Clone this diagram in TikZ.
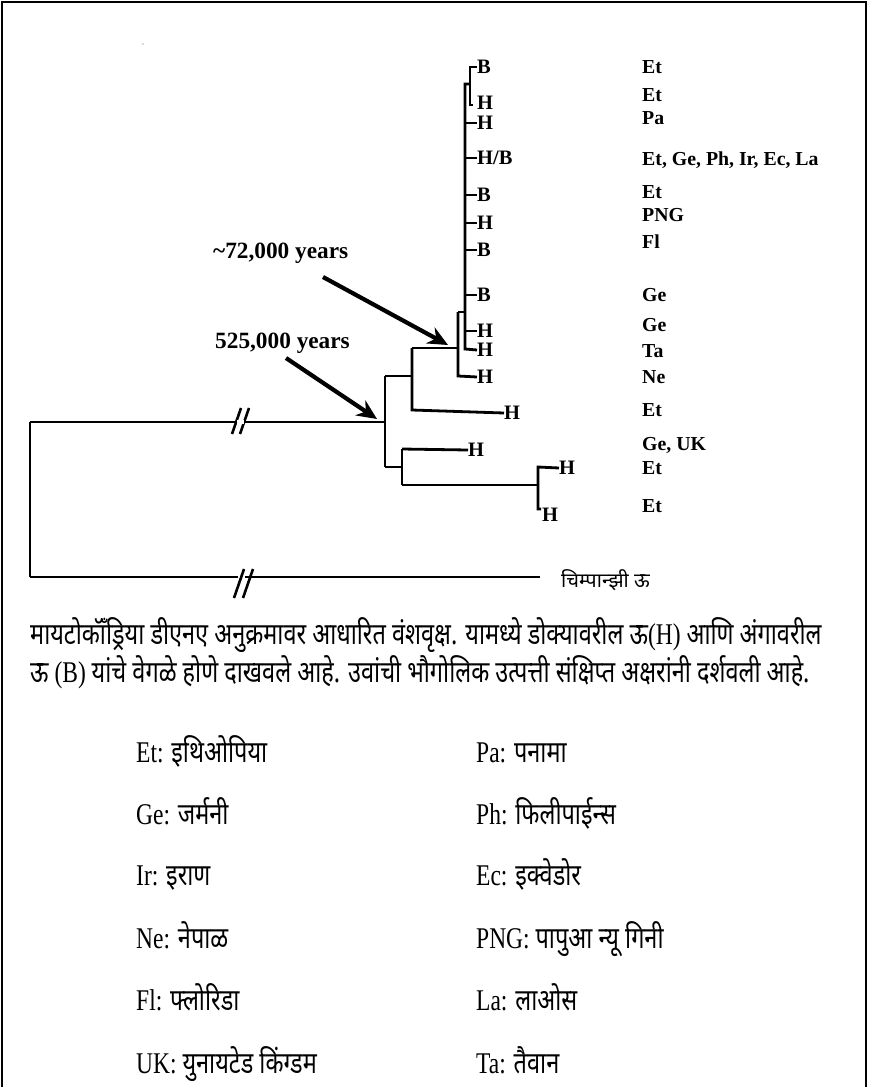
\documentclass[tikz,border=0pt]{standalone}
\usepackage{fontspec}
\setmainfont{Liberation Serif}
\newfontfamily\deva[Script=Devanagari]{Noto Sans}
\usetikzlibrary{arrows.meta}
\newcommand{\dv}[1]{{\deva #1}}
\begin{document}
\begin{tikzpicture}[x=1pt,y=-1pt,
  br/.style={line width=2.8pt, line join=miter},
  leaf/.style={anchor=west, inner sep=0pt, font=\fontsize{20.5}{20.5}\selectfont\bfseries},
  geo/.style={anchor=west, inner sep=0pt, font=\fontsize{19.8}{19.8}\selectfont\bfseries},
  yrs/.style={anchor=west, inner sep=0pt, font=\fontsize{23.3}{23.3}\selectfont\bfseries},
  arr/.style={line width=4.2pt, -{Stealth[length=20pt,width=18pt]}},
  capt/.style={anchor=base west, inner sep=0pt, font=\fontsize{23.5}{23.5}\selectfont},
  brk/.style={line width=2.6pt},
  frame/.style={line width=2pt}
]
\useasboundingbox (0,0) rectangle (869,1087);
% frame (open at bottom)
\draw[frame] (2,1087) -- (2,2) -- (866,2) -- (866,1087);
\fill[gray!60] (143,44) circle (0.9pt);

% ---- internal coordinates
\coordinate (r1) at (30,422);
\coordinate (r2) at (30,577);
\coordinate (a1) at (385,376);
\coordinate (a0) at (385,422);
\coordinate (a2) at (385,467);
\coordinate (b1) at (412,348);
\coordinate (b2) at (412,410);
\coordinate (c1) at (458,312);
\coordinate (c0) at (458,348);
\coordinate (c2) at (458,376);
\coordinate (d1) at (465,84);
\coordinate (d2) at (465,349);
\coordinate (e1) at (470,67);
\coordinate (e2) at (470,105);
\coordinate (f1) at (402,449);
\coordinate (f2) at (402,485);
\coordinate (g1) at (538,467);
\coordinate (g2) at (538,509);
\coordinate (g0) at (538,485);

% ---- leaves
\node[leaf] (l1) at (477,67) {B};
\node[leaf] (l2) at (477,103) {H};
\node[leaf] (l3) at (477,123) {H};
\node[leaf] (l4) at (477,158) {H/B};
\node[leaf] (l5) at (477,195) {B};
\node[leaf] (l6) at (477,223) {H};
\node[leaf] (l7) at (477,250) {B};
\node[leaf] (l8) at (477,295) {B};
\node[leaf] (l9) at (477,331) {H};
\node[leaf] (l10) at (477,350) {H};
\node[leaf] (l11) at (477,377) {H};
\node[leaf] (l12) at (504,413) {H};
\node[leaf] (l13) at (468,450) {H};
\node[leaf] (l14) at (559,468) {H};
\node[leaf] (l15) at (542,515) {H};
\node[anchor=west, inner sep=0pt, font=\fontsize{20}{20}\selectfont\deva] (chimp) at (561,580) {चिम्पान्झी ऊ};

% ---- geography labels
\node[geo] (g01) at (642,67) {Et};
\node[geo] (g02) at (642,95) {Et};
\node[geo] (g03) at (642,118) {Pa};
\node[geo] (g04) at (642,160) {Et, Ge, Ph, Ir, Ec, La};
\node[geo] (g05) at (642,192) {Et};
\node[geo] (g06) at (642,215) {PNG};
\node[geo] (g07) at (642,242) {Fl};
\node[geo] (g08) at (642,295) {Ge};
\node[geo] (g09) at (642,325) {Ge};
\node[geo] (g10) at (642,351) {Ta};
\node[geo] (g11) at (642,377) {Ne};
\node[geo] (g12) at (642,410) {Et};
\node[geo] (g13) at (642,445) {Ge, UK};
\node[geo] (g14) at (642,468) {Et};
\node[geo] (g15) at (642,506) {Et};

% ---- tree branches
% root: top branch with break marks
\draw[br] (a0) -- (240,422);
\draw[br] (r1) -- (236,422);
\draw[br] (r1) -- (r2);
\draw[br] (r2) -- (238,577);
\draw[br] (245,577) -- (540,577);
\draw[brk] (232,434) -- (241,408);
\draw[brk] (240,434) -- (249,408);
\draw[brk] (234,598) -- (244,569);
\draw[brk] (243,598) -- (253,569);
\fill[white] (237,420) rectangle (244,424);
% node A
\draw[br] (a1) -- (a2);
\draw[br] (a1) -- (412,376);
\draw[br] (a2) -- (402,467);
% node B
\draw[br] (b1) -- (b2) -- (l12.west);
\draw[br] (b1) -- (c0);
% node C
\draw[br] (c1) -- (c2) -- (l11.west);
\draw[br] (c1) -- (465,312);
% main stem D
\draw[br] (470,84) -- (d1) -- (d2) -- (l10.west);
\foreach \n/\yy in {l3/123,l4/158,l5/195,l6/223,l7/250,l8/295,l9/331}
  \draw[br] (465,\yy) -- (\n.west);
% small bracket E
\draw[br] (l1.west) -- (e1) -- (e2) -- (473,105);
% node F
\draw[br] (f1) -- (f2);
\draw[br] (f1) -- (l13.west);
\draw[br] (f2) -- (g0);
% node G
\draw[br] (l14.west) -- (g1) -- (g2) -- (541,509);

% ---- age arrows
\node[yrs] (t72) at (213,253) {\textasciitilde72,000 years};
\node[yrs] (t525) at (215,343) {525,000 years};
\coordinate (s72) at (323,277);
\coordinate (h72) at (448,345);
\coordinate (s525) at (286,358);
\coordinate (h525) at (377,419);
\draw[arr] (s72) -- (h72);
\draw[arr] (s525) -- (h525);

% ---- caption
\node[capt] (cap1) at (30,644) {\scalebox{1}[1.28]{\dv{मायटोकॉँड्रिया डीएनए अनुक्रमावर आधारित वंशवृक्ष. यामध्ये डोक्यावरील ऊ}(H) \dv{आणि अंगावरील}}};
\node[capt] (cap2) at (30,682) {\scalebox{1}[1.28]{\dv{ऊ} (B) \dv{यांचे वेगळे होणे दाखवले आहे. उवांची भौगोलिक उत्पत्ती संक्षिप्त अक्षरांनी दर्शवली आहे.}}};

% ---- legend
\node[capt] (k1) at (136,762) {\scalebox{1}[1.28]{Et: \dv{इथिओपिया}}};
\node[capt] (k2) at (476,762) {\scalebox{1}[1.28]{Pa: \dv{पनामा}}};
\node[capt] (k3) at (136,824) {\scalebox{1}[1.28]{Ge: \dv{जर्मनी}}};
\node[capt] (k4) at (476,824) {\scalebox{1}[1.28]{Ph: \dv{फिलीपाईन्स}}};
\node[capt] (k5) at (136,885) {\scalebox{1}[1.28]{Ir: \dv{इराण}}};
\node[capt] (k6) at (476,885) {\scalebox{1}[1.28]{Ec: \dv{इक्वेडोर}}};
\node[capt] (k7) at (136,948) {\scalebox{1}[1.28]{Ne: \dv{नेपाळ}}};
\node[capt] (k8) at (476,948) {\scalebox{1}[1.28]{PNG: \dv{पापुआ न्यू गिनी}}};
\node[capt] (k9) at (136,1010) {\scalebox{1}[1.28]{Fl: \dv{फ्लोरिडा}}};
\node[capt] (k10) at (476,1010) {\scalebox{1}[1.28]{La: \dv{लाओस}}};
\node[capt] (k11) at (136,1073) {\scalebox{1}[1.28]{UK: \dv{युनायटेड किंग्डम}}};
\node[capt] (k12) at (476,1073) {\scalebox{1}[1.28]{Ta: \dv{तैवान}}};
\end{tikzpicture}
\end{document}
